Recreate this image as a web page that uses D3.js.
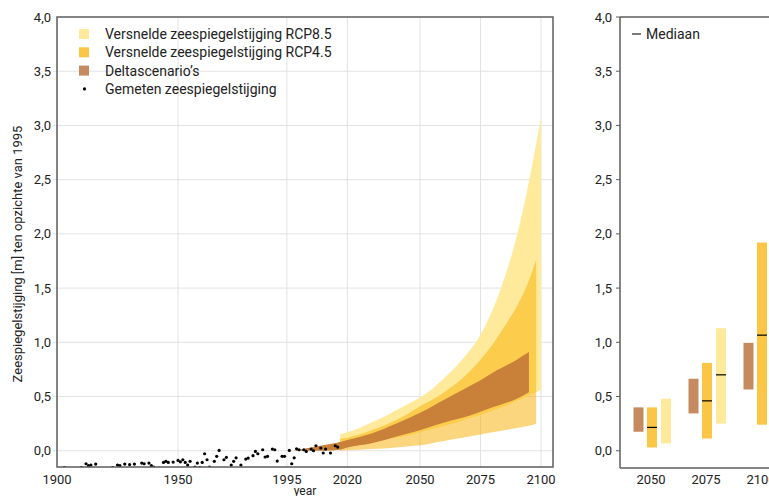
<!DOCTYPE html>
<html><head><meta charset="utf-8">
<script src="https://cdn.jsdelivr.net/npm/d3@7"></script>
<style>html,body{margin:0;padding:0;background:#fff;}svg{display:block;font-family:Roboto,sans-serif;}</style>
</head><body><svg id="c" width="769" height="496"></svg>
<script>
// ---------- data ----------
const measuredYears = [1903,1910,1912,1913,1914,1916,1923,1925,1926,1928,1930,1932,1935,1936,1938,1939,1940,1942,1944,1945,1946,1948,1950,1951,1952,1953,1954,1955,1957,1958,1959,1960,1961,1962,1963,1965,1966,1967,1969,1970,1972,1973,1974,1976,1978,1979,1981,1982,1983,1985,1986,1987,1989,1990,1991,1993,1994,1996,1997,1998,1999,2000,2002,2003,2005,2006,2007,2009,2010,2011,2013,2015,2016];
const measuredValues = [-0.155,-0.155,-0.120,-0.138,-0.132,-0.123,-0.155,-0.132,-0.138,-0.123,-0.128,-0.123,-0.114,-0.120,-0.114,-0.138,-0.150,-0.160,-0.108,-0.098,-0.108,-0.105,-0.089,-0.102,-0.083,-0.108,-0.132,-0.098,-0.150,-0.114,-0.155,-0.108,-0.028,-0.083,-0.150,-0.098,-0.052,0.003,-0.083,-0.061,-0.132,-0.098,-0.065,-0.132,-0.077,-0.068,-0.046,-0.006,-0.028,0.009,-0.058,-0.052,0.015,0.009,-0.095,-0.052,-0.052,0.003,-0.120,-0.065,0.018,0.009,0.009,-0.006,0.015,0.000,0.046,0.025,-0.021,0.015,-0.021,0.046,0.034];

const rcp85Years = [2017,2020,2025,2030,2035,2040,2045,2050,2055,2060,2065,2070,2075,2080,2085,2090,2095,2100];
const rcp85Low   = [0.03,0.04,0.06,0.08,0.10,0.12,0.14,0.17,0.20,0.23,0.26,0.30,0.33,0.37,0.41,0.46,0.51,0.56];
const rcp85High  = [0.15,0.17,0.21,0.26,0.31,0.37,0.43,0.49,0.57,0.67,0.78,0.91,1.07,1.30,1.60,1.98,2.48,3.07];

const rcp45Years = [2017,2020,2025,2030,2035,2040,2045,2050,2055,2060,2065,2070,2075,2080,2085,2090,2095,2098];
const rcp45Low   = [0.00,0.005,0.01,0.015,0.02,0.03,0.04,0.05,0.07,0.09,0.11,0.13,0.15,0.17,0.19,0.21,0.23,0.25];
const rcp45High  = [0.11,0.12,0.15,0.19,0.23,0.28,0.34,0.41,0.47,0.54,0.62,0.72,0.84,0.98,1.15,1.33,1.57,1.76];

const deltaYears = [1998,2005,2010,2017,2020,2030,2040,2050,2060,2070,2075,2080,2090,2095];
const deltaLow   = [0.00,0.00,0.00,0.01,0.03,0.07,0.13,0.19,0.26,0.32,0.36,0.40,0.48,0.54];
const deltaHigh  = [0.00,0.03,0.05,0.08,0.10,0.16,0.25,0.35,0.47,0.59,0.65,0.72,0.84,0.91];

const barYears   = [2050,2075,2100];
const barDeltaLow  = [0.175,0.344,0.565];
const barDeltaHigh = [0.40,0.664,0.995];
const bar45Low  = [0.03,0.113,0.24];
const bar45High = [0.40,0.81,1.92];
const bar45Med  = [0.215,0.46,1.066];
const bar85Low  = [0.067,0.25,0.56];
const bar85High = [0.48,1.13,3.07];
const bar85Med  = [null,0.70,null];

const yTicks = [0,0.5,1,1.5,2,2.5,3,3.5,4];
const xTicksLeft = [1900,1950,1995,2020,2050,2075,2100];
const legendLabels = ["Versnelde zeespiegelstijging RCP8.5","Versnelde zeespiegelstijging RCP4.5","Deltascenario\u2019s","Gemeten zeespiegelstijging"];
const medianLabel = "Mediaan";
const yTitle = "Zeespiegelstijging [m] ten opzichte van 1995";
const xTitle = "year";

// ---------- styles ----------
const C85 = "#feea9a", C45 = "#f9ad00", C45solid = "#fbc646", CDelta = "#c98039", CDeltaBar = "#c68a60";
const axisCol = "#5c5c5c", gridCol = "#e2e2e2", textCol = "#222";

const svg = d3.select("#c");
const y = d3.scaleLinear().domain([-0.15,4]).range([467,17]);
const x = d3.scaleLinear().domain([1900,2100]).range([57,541]);
const plotL = 57, plotR = 553, plotT = 17, plotB = 467;
const fmt = v => d3.format(".1f")(v).replace(".", ",");

svg.append("defs").append("clipPath").attr("id","clipL")
  .append("rect").attr("x",plotL).attr("y",plotT).attr("width",plotR-plotL).attr("height",plotB-plotT);

// grid
const g = svg.append("g");
g.selectAll(".hg").data(yTicks.filter(d=>d<4)).join("line")
  .attr("x1",plotL-4).attr("x2",plotR).attr("y1",d=>y(d)).attr("y2",d=>y(d))
  .attr("stroke",gridCol).attr("stroke-width",1);
g.selectAll(".vg").data(xTicksLeft.filter(d=>d>1900)).join("line")
  .attr("x1",d=>x(d)).attr("x2",d=>x(d)).attr("y1",plotT).attr("y2",plotB)
  .attr("stroke",gridCol).attr("stroke-width",1);

// bands
const band = (years, lo, hi) => d3.area().x((d,i)=>x(years[i])).y0((d,i)=>y(lo[i])).y1((d,i)=>y(hi[i])).curve(d3.curveMonotoneX)(years);
const pg = svg.append("g").attr("clip-path","url(#clipL)");
pg.append("path").attr("d", band(rcp85Years, rcp85Low, rcp85High)).attr("fill", C85);
pg.append("path").attr("d", band(rcp45Years, rcp45Low, rcp45High)).attr("fill", C45).attr("fill-opacity",0.5);
pg.append("path").attr("d", band(deltaYears, deltaLow, deltaHigh)).attr("fill", CDelta);

// measured points
pg.selectAll("circle").data(measuredYears).join("circle")
  .attr("cx",(d)=>x(d)).attr("cy",(d,i)=>y(measuredValues[i])).attr("r",1.6).attr("fill","#000");

// frame
const fr = svg.append("g").attr("stroke",axisCol).attr("fill","none");
fr.append("rect").attr("x",plotL).attr("y",plotT).attr("width",plotR-plotL).attr("height",plotB-plotT).attr("stroke-width",1.5);

// y labels left
svg.append("g").selectAll("text").data(yTicks).join("text")
  .attr("x",51).attr("y",d=>y(d)).attr("dy","0.35em").attr("text-anchor","end")
  .attr("font-size",13).attr("fill",textCol).text(fmt);
// x labels left
svg.append("g").selectAll("text").data(xTicksLeft).join("text")
  .attr("x",d=>x(d)).attr("y",484).attr("text-anchor","middle")
  .attr("font-size",13).attr("fill",textCol).text(d=>d);
svg.append("text").attr("x",305).attr("y",495).attr("text-anchor","middle").attr("font-size",12).attr("fill",textCol).text(xTitle);
svg.append("text").attr("transform","translate(22,254) rotate(-90)").attr("text-anchor","middle")
  .attr("font-size",13).attr("fill",textCol).text(yTitle);

// legend left
const lg = svg.append("g");
const legColors = [C85, C45solid, CDeltaBar];
legendLabels.forEach((lab,i)=>{
  const cy = 34 + i*18.3;
  if (i<3) lg.append("rect").attr("x",79).attr("y",cy-5).attr("width",10).attr("height",10).attr("fill",legColors[i]);
  else lg.append("circle").attr("cx",84.5).attr("cy",cy).attr("r",1.6).attr("fill","#000");
  lg.append("text").attr("x",105).attr("y",cy).attr("dy","0.36em").attr("font-size",14).attr("fill",textCol).text(lab);
});

// ---------- right panel ----------
const rx = d3.scaleLinear().domain([2050,2100]).range([652,762]);
const rL = 620;
const rp = svg.append("g");
const bw = 10;
const drawBars = (offset, lo, hi, color) => {
  rp.append("g").selectAll("rect").data(barYears).join("rect")
    .attr("x",d=>rx(d)+offset-bw/2).attr("width",bw)
    .attr("y",(d,i)=>y(hi[i])).attr("height",(d,i)=>y(lo[i])-y(hi[i])).attr("fill",color);
};
drawBars(-13.5, barDeltaLow, barDeltaHigh, CDeltaBar);
drawBars(0, bar45Low, bar45High, C45solid);
drawBars(14, bar85Low, bar85High, C85);
const drawMed = (offset, med) => {
  rp.append("g").selectAll("line").data(barYears.filter((d,i)=>med[i]!=null)).join("line")
    .attr("x1",d=>rx(d)+offset-bw/2).attr("x2",d=>rx(d)+offset+bw/2)
    .attr("y1",d=>y(med[barYears.indexOf(d)])).attr("y2",d=>y(med[barYears.indexOf(d)]))
    .attr("stroke","#000").attr("stroke-width",1.2);
};
drawMed(0, bar45Med);
drawMed(14, bar85Med);

rp.append("line").attr("x1",rL).attr("x2",rL).attr("y1",plotT).attr("y2",468).attr("stroke",axisCol).attr("stroke-width",1.5);
rp.append("line").attr("x1",rL).attr("x2",769).attr("y1",plotT).attr("y2",plotT).attr("stroke",axisCol).attr("stroke-width",1.5);
rp.append("line").attr("x1",rL).attr("x2",769).attr("y1",468).attr("y2",468).attr("stroke",axisCol).attr("stroke-width",1.5);
rp.append("g").selectAll("line").data(yTicks).join("line")
  .attr("x1",rL-4).attr("x2",rL).attr("y1",d=>y(d)).attr("y2",d=>y(d)).attr("stroke",axisCol).attr("stroke-width",1);
rp.append("g").selectAll("text").data(yTicks).join("text")
  .attr("x",612).attr("y",d=>y(d)).attr("dy","0.35em").attr("text-anchor","end")
  .attr("font-size",13).attr("fill",textCol).text(fmt);
rp.append("g").selectAll("text").data(barYears).join("text")
  .attr("x",d=>rx(d)-1).attr("y",484).attr("text-anchor","middle")
  .attr("font-size",13).attr("fill",textCol).text(d=>d);
rp.append("line").attr("x1",632).attr("x2",641).attr("y1",34).attr("y2",34).attr("stroke","#222").attr("stroke-width",1.2);
rp.append("text").attr("x",646).attr("y",34).attr("dy","0.36em").attr("font-size",14).attr("fill",textCol).text(medianLabel);
</script></body></html>
